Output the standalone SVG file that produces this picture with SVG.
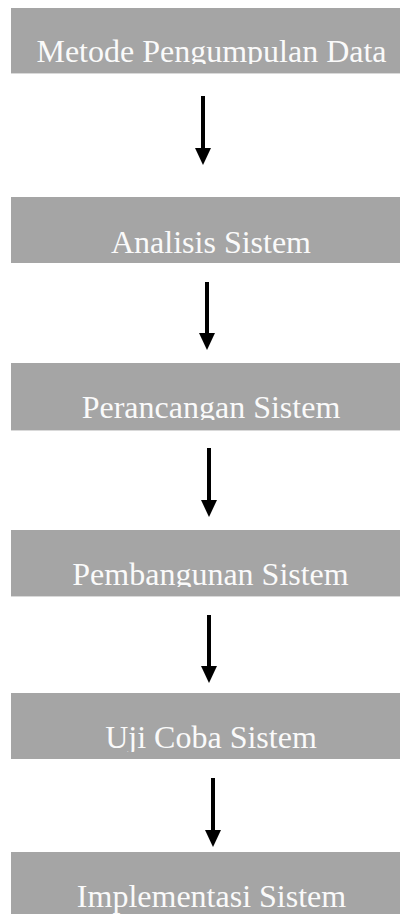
<svg xmlns="http://www.w3.org/2000/svg" width="400" height="914" viewBox="0 0 400 914">
<style>
.box{fill:#a5a5a5}
.edge{stroke:#d9d9d9;stroke-width:1}
.lbl{font-family:'Liberation Serif','DejaVu Serif',serif;font-size:32px;fill:#fafafa;text-anchor:middle}
.conn line{stroke:#000;stroke-width:4}
.conn path{fill:#000}
</style>
<defs>
<clipPath id="c1"><rect x="0" y="8" width="400" height="56"/></clipPath>
<clipPath id="c2"><rect x="0" y="197" width="400" height="66"/></clipPath>
<clipPath id="c3"><rect x="0" y="363" width="400" height="57"/></clipPath>
<clipPath id="c4"><rect x="0" y="530" width="400" height="57"/></clipPath>
<clipPath id="c5"><rect x="0" y="693" width="400" height="59"/></clipPath>
<clipPath id="c6"><rect x="0" y="852" width="400" height="62"/></clipPath>
</defs>
<rect width="400" height="914" fill="#fff"/>
<g id="n1"><rect class="box" x="11" y="8" width="401" height="65"/><line class="edge" x1="11" y1="73.5" x2="400" y2="73.5"/><text class="lbl" x="211.5" y="62" clip-path="url(#c1)">Metode Pengumpulan Data</text></g>
<g id="n2"><rect class="box" x="11" y="197" width="401" height="66"/><text class="lbl" x="211" y="253" clip-path="url(#c2)">Analisis Sistem</text></g>
<g id="n3"><rect class="box" x="11" y="363" width="401" height="67"/><line class="edge" x1="11" y1="430.5" x2="400" y2="430.5"/><text class="lbl" x="211" y="418" clip-path="url(#c3)">Perancangan Sistem</text></g>
<g id="n4"><rect class="box" x="11" y="530" width="401" height="66"/><line class="edge" x1="11" y1="596.5" x2="400" y2="596.5"/><text class="lbl" x="210.5" y="585" clip-path="url(#c4)">Pembangunan Sistem</text></g>
<g id="n5"><rect class="box" x="11" y="693" width="401" height="66"/><text class="lbl" x="211" y="748" clip-path="url(#c5)">Uji Coba Sistem</text></g>
<g id="n6"><rect class="box" x="11" y="852" width="401" height="62"/><text class="lbl" x="211.5" y="907" clip-path="url(#c6)">Implementasi Sistem</text></g>
<g id="connectors" class="conn">
<line x1="203" y1="96" x2="203" y2="150"/><path d="M195,148 L211,148 L203,165 Z"/>
<line x1="207" y1="282" x2="207" y2="335"/><path d="M199,333 L215,333 L207,350 Z"/>
<line x1="209" y1="448" x2="209" y2="502"/><path d="M201,500 L217,500 L209,517 Z"/>
<line x1="209" y1="615" x2="209" y2="668"/><path d="M201,666 L217,666 L209,683 Z"/>
<line x1="213" y1="778" x2="213" y2="832"/><path d="M205,830 L221,830 L213,847 Z"/>
</g>
</svg>
